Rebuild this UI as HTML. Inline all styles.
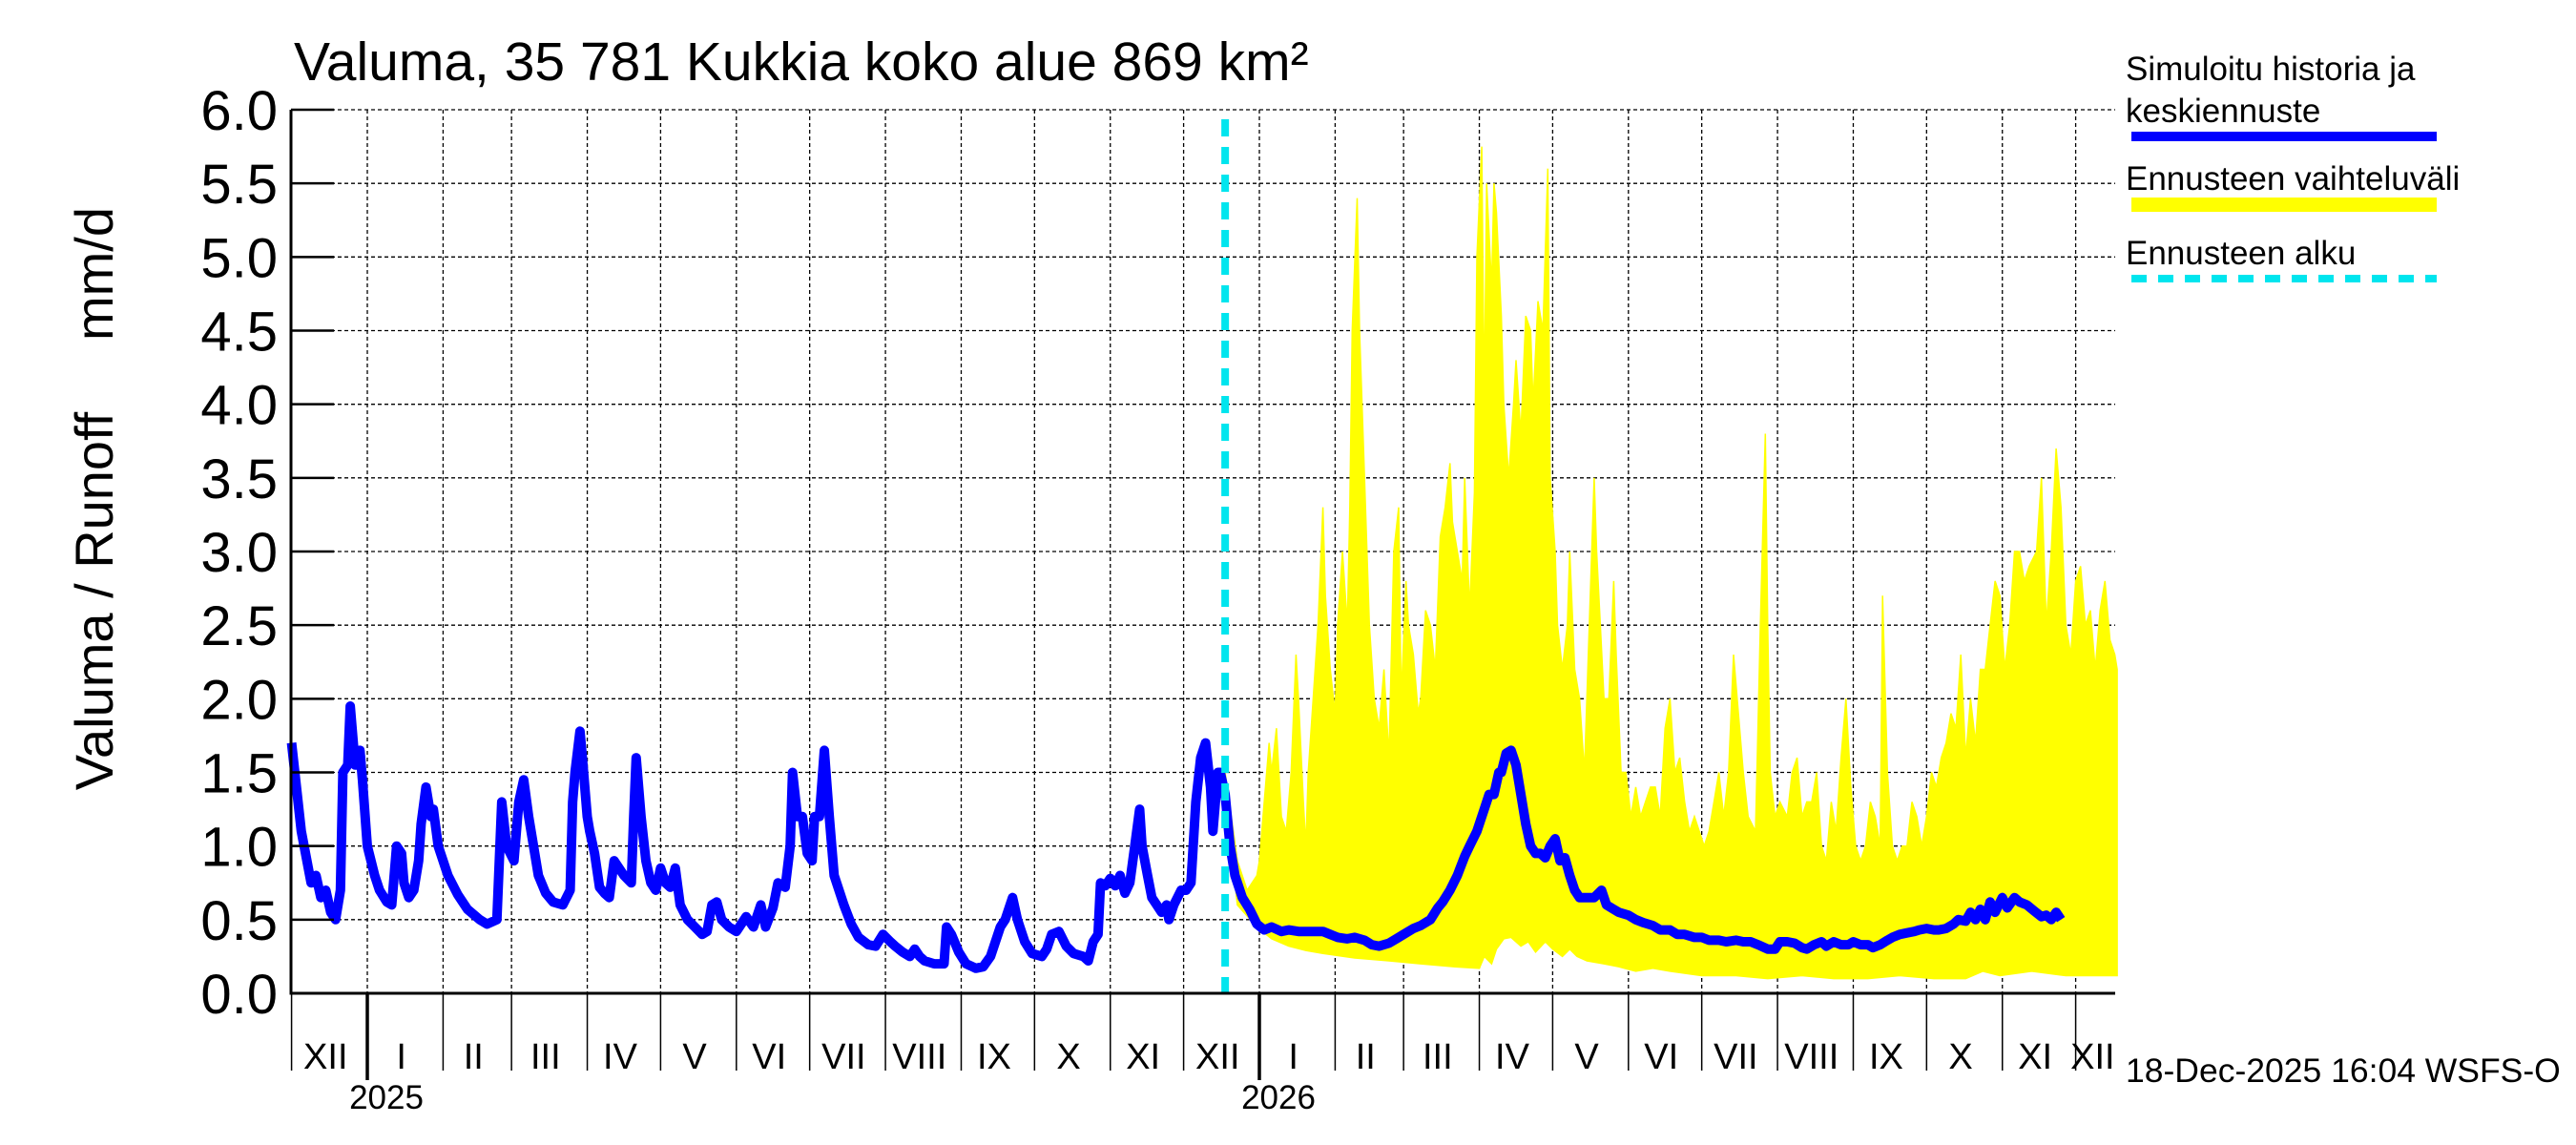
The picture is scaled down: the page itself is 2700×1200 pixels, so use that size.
<!DOCTYPE html>
<html><head><meta charset="utf-8">
<style>
html,body{margin:0;padding:0;background:#fff;}
svg{display:block;font-family:"Liberation Sans",sans-serif;}
</style></head>
<body>
<svg id="chart" width="2700" height="1200" viewBox="0 0 2700 1200" xmlns="http://www.w3.org/2000/svg">
<text x="308" y="84" font-size="57">Valuma, 35 781 Kukkia koko alue 869 km²</text>
<text transform="translate(118,630) rotate(-90)" text-anchor="middle" font-size="56">Valuma / Runoff</text>
<text transform="translate(118,287) rotate(-90)" text-anchor="middle" font-size="56">mm/d</text>
<g id="grid"></g>
<g id="band"></g>
<g id="lines"></g>
<g id="axes"></g>
<g>
<text x="2228" y="84" font-size="35">Simuloitu historia ja</text>
<text x="2228" y="128" font-size="35">keskiennuste</text>
<rect x="2234" y="138" width="320" height="10" fill="#0000ff"/>
<text x="2228" y="199" font-size="35">Ennusteen vaihteluväli</text>
<rect x="2234" y="207" width="320" height="15" fill="#ffff00"/>
<text x="2228" y="277" font-size="35">Ennusteen alku</text>
<line x1="2234" y1="292" x2="2554" y2="292" stroke="#00e5ee" stroke-width="8" stroke-dasharray="16,12"/>
</g>
<text x="2228" y="1134" font-size="35.5">18-Dec-2025 16:04 WSFS-O</text>
</svg>
<script>
// day index = days since 2024-12-01
const yTicks=[0,0.5,1,1.5,2,2.5,3,3.5,4,4.5,5,5.5,6];
const yTickLabels=["0.0","0.5","1.0","1.5","2.0","2.5","3.0","3.5","4.0","4.5","5.0","5.5","6.0"];
const monthStarts=[0,31,62,90,121,151,182,212,243,274,304,335,365,396,427,455,486,516,547,577,608,639,669,700,730,747];
const monthLabels=["XII","I","II","III","IV","V","VI","VII","VIII","IX","X","XI","XII","I","II","III","IV","V","VI","VII","VIII","IX","X","XI","XII"];
const yearLabels=["2025","2026"];
const yearStarts=[31,396];
const forecastStartDay=382;
const histDays=[0,4,8,10,12,14,16,18,20,21,23,24,26,28,29,31,34,36,39,41,43,45,46,48,50,52,53,55,57,58,60,64,68,72,77,80,84,86,88,91,93,95,97,101,104,107,111,114,115,116,118,119,121,122,124,126,128,130,132,134,136,139,140,141,143,145,147,149,151,153,155,157,159,162,165,168,170,172,174,176,179,182,186,189,192,194,197,199,202,204,205,207,209,211,213,214,216,218,220,222,226,229,232,236,239,242,245,247,250,253,255,257,259,263,267,268,270,273,276,280,283,286,290,292,295,297,300,303,307,309,311,314,317,320,324,326,328,330,331,333,335,337,339,341,343,345,347,348,350,352,354,356,358,359,361,364,366,368,370,372,374,376,377,379,380,382,384,386,389,392,395,398];
const histVals=[1.7,1.1,0.75,0.8,0.65,0.7,0.55,0.5,0.7,1.5,1.55,1.95,1.55,1.65,1.45,1.0,0.8,0.7,0.62,0.6,1.0,0.95,0.75,0.65,0.7,0.9,1.15,1.4,1.2,1.25,1.0,0.8,0.67,0.57,0.5,0.47,0.5,1.3,1.0,0.9,1.3,1.45,1.2,0.8,0.68,0.62,0.6,0.7,1.3,1.5,1.78,1.6,1.2,1.1,0.95,0.72,0.68,0.65,0.9,0.85,0.8,0.75,1.2,1.6,1.2,0.9,0.75,0.7,0.85,0.75,0.72,0.85,0.6,0.5,0.45,0.4,0.42,0.6,0.62,0.5,0.45,0.42,0.52,0.45,0.6,0.45,0.58,0.75,0.72,1.0,1.5,1.2,1.2,0.95,0.9,1.2,1.2,1.65,1.2,0.8,0.6,0.47,0.38,0.33,0.32,0.4,0.35,0.32,0.28,0.25,0.3,0.25,0.22,0.2,0.2,0.45,0.4,0.28,0.2,0.17,0.18,0.25,0.45,0.5,0.65,0.5,0.35,0.27,0.25,0.3,0.4,0.42,0.32,0.27,0.25,0.22,0.35,0.4,0.75,0.73,0.78,0.73,0.8,0.68,0.75,1.0,1.25,1.0,0.82,0.65,0.6,0.55,0.6,0.5,0.6,0.7,0.7,0.75,1.3,1.6,1.7,1.4,1.1,1.5,1.5,1.35,1.0,0.8,0.65,0.57,0.47,0.43];
const fcDays=[398,401,405,408,412,415,418,422,425,428,432,435,439,442,445,449,452,455,459,462,466,469,471,474,477,480,482,485,488,490,492,494,495,497,499,501,503,505,507,509,511,513,515,517,519,521,523,525,527,530,533,536,538,541,543,547,550,553,557,560,564,567,570,574,577,580,584,587,591,594,597,600,604,607,609,612,615,618,620,623,626,628,631,634,637,639,642,645,647,650,653,655,658,661,664,666,669,672,674,677,680,682,685,687,689,691,693,695,697,700,702,705,707,710,713,716,718,720,722,724];
const fcVals=[0.43,0.45,0.42,0.43,0.42,0.42,0.42,0.42,0.4,0.38,0.37,0.38,0.36,0.33,0.32,0.34,0.37,0.4,0.44,0.46,0.5,0.58,0.62,0.7,0.8,0.93,1.0,1.1,1.25,1.35,1.35,1.5,1.5,1.63,1.65,1.55,1.35,1.15,1.0,0.95,0.95,0.92,1.0,1.05,0.9,0.92,0.8,0.7,0.65,0.65,0.65,0.7,0.6,0.57,0.55,0.53,0.5,0.48,0.46,0.43,0.43,0.4,0.4,0.38,0.38,0.36,0.36,0.35,0.36,0.35,0.35,0.33,0.3,0.3,0.35,0.35,0.34,0.31,0.3,0.33,0.35,0.32,0.35,0.33,0.33,0.35,0.33,0.33,0.31,0.33,0.36,0.38,0.4,0.41,0.42,0.43,0.44,0.43,0.43,0.44,0.47,0.5,0.49,0.55,0.5,0.57,0.5,0.62,0.55,0.65,0.58,0.65,0.62,0.6,0.56,0.52,0.53,0.5,0.55,0.5];
const upDays=[382,387,391,395,396,398,400,401,403,405,407,409,411,412,414,415,416,418,420,422,423,425,427,428,430,432,433,434,436,437,439,441,443,445,447,449,451,453,454,456,457,459,461,462,464,466,468,470,472,474,475,477,479,480,482,484,485,487,488,489,491,492,493,495,496,498,500,501,503,505,507,508,510,512,514,515,517,518,520,522,523,525,527,529,531,533,534,537,539,541,542,544,546,548,550,552,554,556,558,560,562,564,566,568,570,572,574,576,578,580,582,584,586,588,590,592,594,596,599,600,601,603,604,605,607,609,612,614,616,618,620,622,624,626,628,630,632,634,636,638,640,642,644,646,648,650,651,653,655,657,659,661,663,665,667,669,671,673,675,677,679,681,683,685,687,689,691,693,695,697,699,701,703,705,707,709,711,714,716,718,720,722,724,726,728,730,732,734,736,738,740,742,744,746,747];
const upVals=[1.5,0.9,0.7,0.8,0.9,1.3,1.7,1.5,1.8,1.2,1.1,1.5,2.3,2.0,1.3,1.0,1.5,2.0,2.5,3.3,2.7,2.2,1.9,2.5,3.0,2.5,3.3,4.5,5.4,4.5,3.5,2.5,2.0,1.8,2.2,1.6,3.0,3.3,2.0,2.8,2.5,2.3,1.9,2.0,2.6,2.5,2.2,3.1,3.3,3.6,3.2,3.0,2.8,3.5,2.6,3.4,5.0,5.75,4.0,5.5,4.8,5.5,5.3,4.6,4.0,3.5,4.0,4.3,3.8,4.6,4.5,4.0,4.7,4.5,5.6,3.5,3.0,2.5,2.2,2.5,3.0,2.2,2.0,1.5,2.5,3.5,3.0,2.0,2.0,2.8,2.3,1.5,1.5,1.2,1.4,1.2,1.3,1.4,1.4,1.2,1.8,2.0,1.5,1.6,1.3,1.1,1.2,1.1,1.0,1.1,1.3,1.5,1.2,1.5,2.3,1.9,1.5,1.2,1.1,1.8,2.5,3.8,2.5,1.5,1.2,1.3,1.2,1.5,1.6,1.2,1.3,1.3,1.5,1.0,0.9,1.3,1.1,1.6,2.0,1.4,1.0,0.9,1.0,1.3,1.2,1.0,2.7,1.5,1.0,0.9,1.0,1.0,1.3,1.2,1.0,1.2,1.5,1.4,1.6,1.7,1.9,1.8,2.3,1.6,2.0,1.7,2.2,2.2,2.5,2.8,2.7,2.2,2.5,3.0,3.0,2.8,2.9,3.0,3.5,2.5,3.0,3.7,3.3,2.5,2.3,2.8,2.9,2.5,2.6,2.2,2.6,2.8,2.4,2.3,2.2];
const loDays=[382,387,395,401,408,415,422,435,449,462,476,486,488,491,493,496,499,503,506,509,513,516,520,523,526,530,537,543,550,557,564,577,591,604,618,631,645,658,672,685,692,699,712,726,747];
const loVals=[1.4,0.6,0.45,0.37,0.32,0.29,0.27,0.24,0.22,0.2,0.18,0.17,0.25,0.2,0.3,0.37,0.38,0.32,0.35,0.28,0.35,0.3,0.25,0.3,0.25,0.22,0.2,0.18,0.15,0.17,0.15,0.12,0.12,0.1,0.12,0.1,0.1,0.12,0.1,0.1,0.15,0.12,0.15,0.12,0.12];

const NS="http://www.w3.org/2000/svg";
const X0=305,XR=2217,Y0=1041,YT=115;
function xs(d){return 385+(d-31)*(935/365);}
function ys(v){return Y0-(v/6)*(Y0-YT);}
function mk(parent,tag,attrs){const e=document.createElementNS(NS,tag);for(const k in attrs)e.setAttribute(k,attrs[k]);parent.appendChild(e);return e;}
const grid=document.getElementById('grid'),band=document.getElementById('band'),lines=document.getElementById('lines'),axes=document.getElementById('axes');

yTicks.forEach((v,i)=>{
  const y=ys(v);
  if(v>0){const g=mk(grid,'line',{x1:X0,y1:y,x2:XR,y2:y,stroke:'#000','stroke-width':1.3,'stroke-dasharray':'4,3'});
  
  }
  const t=mk(axes,'line',{x1:X0,y1:y,x2:X0+45,y2:y,stroke:'#000','stroke-width':2.5});
  
  
  const l=mk(axes,'text',{x:291,y:y+21,'text-anchor':'end','font-size':58});
  l.textContent=yTickLabels[i];
  
  
});
monthStarts.forEach((d,i)=>{
  const x=xs(d);
  if(i>0&&i<monthStarts.length-1){const g=mk(grid,'line',{x1:x,y1:YT,x2:x,y2:Y0,stroke:'#000','stroke-width':1.3,'stroke-dasharray':'4,3'});
  
  }
  if(i<monthStarts.length-1){
    const isYear=yearStarts.indexOf(d)>=0;
    const t=mk(axes,'line',{x1:x,y1:Y0,x2:x,y2:isYear?1132:1122,stroke:'#000','stroke-width':isYear?3.5:1.5});
    
    
    const l=mk(axes,'text',{x:(x+xs(monthStarts[i+1]))/2-4,y:1120,'text-anchor':'middle','font-size':38});
    l.textContent=monthLabels[i];
    
    
  }
});
yearStarts.forEach((d,i)=>{
  const l=mk(axes,'text',{x:xs(d)+20,y:1162,'text-anchor':'middle','font-size':35});
  l.textContent=yearLabels[i];
  
  
});
const ax=mk(axes,'path',{d:`M${X0},${YT}L${X0},${Y0}L${XR},${Y0}`,fill:'none',stroke:'#000','stroke-width':3});



let pd='';
upDays.forEach((d,i)=>{pd+=(i?'L':'M')+xs(d).toFixed(1)+','+ys(upVals[i]).toFixed(1);});
for(let i=loDays.length-1;i>=0;i--){pd+='L'+xs(loDays[i]).toFixed(1)+','+ys(loVals[i]).toFixed(1);}
const bp=mk(band,'path',{d:pd+'Z',fill:'#ffff00',stroke:'#ffff00','stroke-width':1.5});



const allD=histDays.concat(fcDays),allV=histVals.concat(fcVals);
let lp='';
allD.forEach((d,i)=>{lp+=(i?'L':'M')+xs(d).toFixed(1)+','+ys(allV[i]).toFixed(1);});
const ln=mk(lines,'path',{d:lp,fill:'none',stroke:'#0000ff','stroke-width':10,'stroke-linejoin':'round'});



const fx=xs(forecastStartDay);
const fl=mk(lines,'line',{x1:fx,y1:125,x2:fx,y2:Y0,stroke:'#00e5ee','stroke-width':8,'stroke-dasharray':'18,11'});


</script>
</body></html>
